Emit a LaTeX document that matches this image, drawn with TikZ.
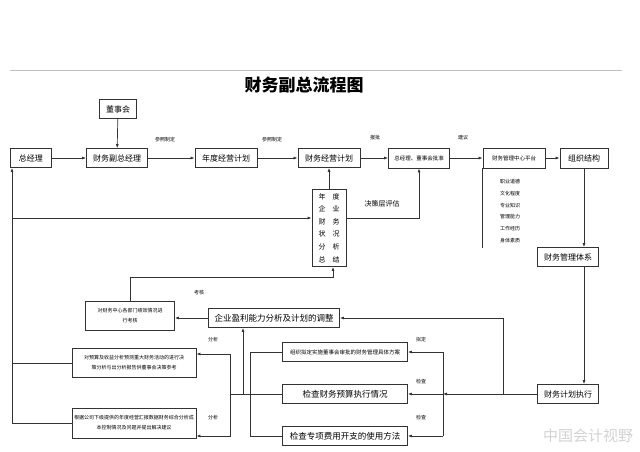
\documentclass[tikz,border=0pt]{standalone}
\usepackage{fontspec}
\setmainfont{Noto Sans CJK SC}
\usetikzlibrary{arrows.meta}

\begin{document}
\begin{tikzpicture}[x=1pt, y=-1pt,
  box/.style = {draw=black!80, line width=0.8pt, inner sep=1pt, align=center,
                minimum height=19, font=\fontsize{8}{9}\selectfont},
  smallbox/.style = {box, font=\fontsize{5.5}{7}\selectfont},
  notebox/.style = {box, font=\fontsize{5}{10}\selectfont},
  tag/.style = {font=\fontsize{5}{6}\selectfont, inner sep=0pt},
  link/.style = {draw=black!80, line width=0.7pt},
  arr/.style = {link, -{Latex[length=4pt,width=3pt]}},
  ]
  \useasboundingbox (0,0) rectangle (640,452);
  % page and title
  \draw[gray!50, line width=0.6pt] (10,70) -- (622,70);
  \node[font=\bfseries\fontsize{17}{19}\selectfont] (title) at (304,85) {财务副总流程图};

  % top row
  \node[box, minimum width=37] (dsh) at (118,109) {董事会};
  \node[box, minimum width=41] (zjl) at (31,158) {总经理};
  \node[box, minimum width=61] (fzjl) at (117,158) {财务副总经理};
  \node[box, minimum width=62] (ndjh) at (226,158) {年度经营计划};
  \node[box, minimum width=62] (cwjh) at (329,158) {财务经营计划};
  \node[smallbox, minimum width=61, minimum height=20] (pz) at (419,158) {总经理、董事会批准};
  \node[smallbox, minimum width=62, minimum height=20] (pt) at (514,158) {财务管理中心平台};
  \node[box, minimum width=48, minimum height=20] (zzjg) at (584,158) {组织结构};

  % analysis box
  \node[box, minimum width=34, minimum height=77, font=\fontsize{7}{12.6}\selectfont]
    (vbox) at (329,228) {年\quad 度\\企\quad 业\\财\quad 务\\状\quad 况\\分\quad 析\\总\quad 结};

  % right column
  \node[box, minimum width=61] (txi) at (568,257) {财务管理体系};
  \node[box, minimum width=61] (zx) at (568,394) {财务计划执行};

  % middle
  \node[box, minimum width=131, font=\fontsize{8.5}{9}\selectfont] (yl) at (274,318) {企业盈利能力分析及计划的调整};
  \node[notebox, minimum width=89, minimum height=29] (kh) at (130,316)
    {对财务中心各部门绩效情况进\\行考核};
  \node[notebox, minimum width=124, minimum height=29] (ys) at (134,363)
    {对预算及收益分析预测重大财务活动的进行决\\策分析与出分析报告供董事会决策参考};
  \node[notebox, minimum width=124, minimum height=30] (gj) at (134,423)
    {根据公司下级提供的年度经营汇报数据财务综合分析成\\本控制情况及问题并提出解决建议};
  \node[smallbox, minimum width=125] (ld) at (345,352) {组织拟定实施董事会审批的财务管理具体方案};
  \node[box, minimum width=125, font=\fontsize{8.5}{9}\selectfont] (jc) at (345,394) {检查财务预算执行情况};
  \node[box, minimum width=125, font=\fontsize{8.5}{9}\selectfont] (zxfy) at (345,436) {检查专项费用开支的使用方法};

  % labels
  \node[tag] (t1) at (165,140) {参照制定};
  \node[tag] (t2) at (272,140) {参照制定};
  \node[tag] (t3) at (375,138) {报批};
  \node[tag] (t4) at (463,138) {建议};
  \node[tag, font=\fontsize{7}{8}\selectfont] (t5) at (382,204) {决策层评估};
  \node[tag] (t6) at (199,293) {考核};
  \node[tag] (t7) at (213,340) {分析};
  \node[tag] (t8) at (213,418) {分析};
  \node[tag] (t9) at (421,340) {拟定};
  \node[tag] (t10) at (421,382) {检查};
  \node[tag] (t11) at (421,418) {检查};
  \node[tag, align=center, font=\fontsize{5}{11.7}\selectfont] (list) at (510,211)
    {职业道德\\文化程度\\专业知识\\管理能力\\工作经历\\身体素质};

  % junctions
  \coordinate (lb) at (12,420);
  \coordinate (jr) at (443,394);
  \coordinate (jy) at (503,394);
  \coordinate (jl) at (250,394);
  \coordinate (jm) at (243,394);
  \coordinate (jk) at (230,394);

  % top row links
  \draw[arr] (dsh) -- (fzjl);
  \draw[arr] (zjl) -- (fzjl);
  \draw[arr] (fzjl) -- (ndjh);
  \draw[arr] (ndjh) -- (cwjh);
  \draw[arr] (cwjh) -- (pz);
  \draw[arr] (pz) -- (pt);
  \draw[arr] (pt) -- (zzjg);
  \draw[link] (pt.south west) -- ++(0,80);
  \draw[arr] (zzjg) -- (zzjg |- txi.north);
  \draw[arr] (zzjg |- txi.south) -- (zzjg |- zx.north);

  % analysis box links
  \draw[arr] (vbox) -- (cwjh);
  \draw[arr] ([yshift=10pt]vbox.east) -| (pz.south);
  \draw[arr] (lb |- 0,218) -- ([yshift=10pt]vbox.west);
  \draw[arr] (kh.north) -- ++(0,-24) -| ([xshift=4pt]vbox.south);

  % left line
  \draw[arr] (lb |- gj) -- (lb |- zjl.south);
  \draw[link] (gj.west) -- (lb |- gj);
  \draw[link] (ys.west) -- (lb |- ys);

  % execution links
  \draw[arr] (zx) -- (jr);
  \draw[link] (jr |- ld) -- (jr |- zxfy);
  \draw[arr] (jr |- ld) -- (ld);
  \draw[arr] (jr) -- (jc);
  \draw[arr] (jr |- zxfy) -- (zxfy);
  \draw[arr] (jy) |- (yl.east);

  % left fan
  \draw[link] (ld.west) -- (jl |- ld) -- (jl |- zxfy) -- (zxfy.west);
  \draw[link] (jc.west) -- (jk);
  \draw[arr] (jm) -- (jm |- yl.south);
  \draw[arr] (jk) |- ([yshift=9pt]ys.east);
  \draw[arr] (jk) |- ([yshift=-13pt]gj.east);
  \draw[arr] (yl.west) -- (yl.west -| kh.east);

  % watermark
  \node[text=gray!35, font=\fontsize{15}{16}\selectfont] (wm) at (588,436) {中国会计视野};
\end{tikzpicture}
\end{document}
